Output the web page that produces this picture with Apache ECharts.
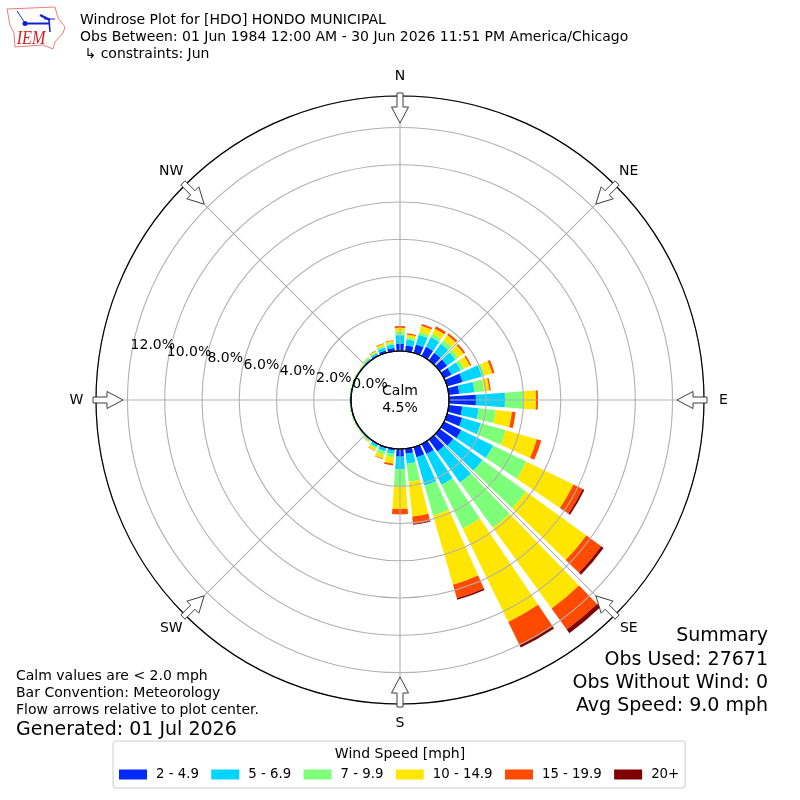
<!DOCTYPE html>
<html><head><meta charset="utf-8">
<style>html,body{margin:0;padding:0;background:#fff}#c{width:800px;height:800px}</style>
<script src="https://cdn.jsdelivr.net/npm/echarts@6/dist/echarts.min.js"></script>
</head><body><div id="c"></div>
<script>
const directions = [0,10,20,30,40,50,60,70,80,90,100,110,120,130,140,150,160,170,180,190,200,210,220,230,240,250,260,270,280,290,300,310,320,330,340,350];
const speedBins = ['2 - 4.9','5 - 6.9','7 - 9.9','10 - 14.9','15 - 19.9','20+'];
const binColors = ['#0029ff','#00d5ff','#7dff7a','#ffe600','#ff4a00','#800000'];
const speed2to5   = [.38,.31,.47,.55,.50,.50,.45,.87,.57,1.45,.73,.85,1.03,.91,.79,.60,.57,.27,.41,.10,.08,.06,.04,.03,.03,.03,.03,.03,.03,.03,.03,.03,.05,.08,.14,.18];
const speed5to7   = [.47,.33,.54,.58,.60,.55,.55,1.07,.82,1.56,.88,1.03,1.90,1.93,2.06,1.83,1.58,.54,.68,.17,.16,.12,.05,.04,.04,.04,.04,.04,.04,.04,.04,.04,.07,.10,.16,.18];
const speed7to10  = [.21,.10,.17,.20,.25,.20,.20,.18,.52,1.00,.93,1.40,2.00,2.90,3.00,2.62,1.67,.97,.93,.20,.18,.10,.04,.03,.02,.02,.02,.02,.02,.02,.02,.02,.05,.06,.10,.10];
const speed10to15 = [.19,.17,.33,.30,.33,.35,.35,.41,.28,.66,.87,1.73,2.80,4.00,5.36,5.58,3.87,1.88,1.20,.33,.22,.13,.04,.02,.02,.01,.01,.01,.01,.01,.02,.02,.04,.06,.11,.11];
const speed15to20 = [.09,.06,.11,.14,.12,.10,.08,.12,.08,.11,.20,.25,.55,.98,1.39,1.39,.75,.40,.29,.10,.04,.02,.01,0,0,0,0,0,0,0,0,0,.01,.02,.03,.03];
const speed20up   = [0,0,0,0,0,0,0,0,0,0,0,0,.10,.16,.24,.14,.09,.04,0,0,0,0,0,0,0,0,0,0,0,0,0,0,0,0,0,0];
const radiusTickLabels = ['0.0%','2.0%','4.0%','6.0%','8.0%','10.0%','12.0%'];
const compassLabels = {0:'N',45:'NE',90:'E',135:'SE',180:'S',225:'SW',270:'W',315:'NW'};
const titleLines = ['Windrose Plot for [HDO] HONDO MUNICIPAL','Obs Between: 01 Jun 1984 12:00 AM - 30 Jun 2026 11:51 PM America/Chicago',' \u21b3 constraints: Jun'];
const summaryLines = ['Summary','Obs Used: 27671','Obs Without Wind: 0','Avg Speed: 9.0 mph'];
const noteLines = ['Calm values are < 2.0 mph','Bar Convention: Meteorology','Flow arrows relative to plot center.'];

const allBins = [speed2to5,speed5to7,speed7to10,speed10to15,speed15to20,speed20up];
const FONT = '"DejaVu Sans"';
const FS = 14, FL = 19;
const CX = 400, CY = 400, R0 = 49, R1 = 304;
const chart = echarts.init(document.getElementById('c'), null, {renderer:'canvas'});

const txt = (text,x,y,size,align,extra) => ({type:'text',z:20,x,y,style:Object.assign({text,fontFamily:FONT,fontSize:size,fill:'#000',align:align||'left',verticalAlign:'middle'},extra||{})});
const graphics = [];
titleLines.forEach((t,i)=>graphics.push(txt(t,80,20.5+i*17,FS)));
summaryLines.forEach((t,i)=>graphics.push(txt(t,768,636.5+i*23.3,FL,'right')));
noteLines.forEach((t,i)=>graphics.push(txt(t,16,676.5+i*17,FS)));
graphics.push(txt('Generated: 01 Jul 2026',16,730,FL));
graphics.push(txt('Wind Speed [mph]',400,754,FS,'center'));
graphics.push(txt('Calm',400,391,FS,'center'));
graphics.push(txt('4.5%',400,408,FS,'center'));
radiusTickLabels.forEach((t,i)=>graphics.push(txt(t,370-36.2*i,384.5-6.5*i,FS,'center')));
graphics.push({type:'circle',z:15,shape:{cx:CX,cy:CY,r:R0},style:{fill:'none',stroke:'#000',lineWidth:1.2}});

Object.keys(compassLabels).forEach(a=>{
  const th = a*Math.PI/180, s=Math.sin(th), c=Math.cos(th);
  const P=(r,p)=>[CX+r*s+p*c, CY-r*c+p*s];
  graphics.push({type:'polygon',z:16,shape:{points:[P(307,-3),P(293,-3),P(293,-8.5),P(277,0),P(293,8.5),P(293,3),P(307,3)]},
    style:{fill:'#fff',stroke:'#333',lineWidth:1,opacity:.95}});
  const lp = P(323.5,0);
  graphics.push(txt(compassLabels[a],lp[0],lp[1],FS,'center'));
});

// IEM logo
const L=(pts,stroke,w)=>({type:'polyline',z:20,shape:{points:pts},style:{stroke,lineWidth:w,fill:'none'}});
graphics.push({type:'polygon',z:20,shape:{points:[[7,9],[55,7],[58,18],[65,27],[63,33],[55,42],[53,49],[43,45],[15,47],[14,33],[10,25]]},style:{fill:'#fff',stroke:'#e98080',lineWidth:1}});
graphics.push(L([[17,11],[25,23]],'#2030d0',1));
graphics.push(L([[25,23.5],[50,23.5]],'#1020d0',2));
graphics.push(L([[40,15],[50,20]],'#1020d0',2.5));
graphics.push(L([[44,19],[55,19]],'#1020d0',1));
graphics.push(L([[49,20],[50,32]],'#1020d0',1.5));
graphics.push({type:'circle',z:20,shape:{cx:25,cy:23.5,r:2.5},style:{fill:'#1020d0'}});
graphics.push({type:'text',z:20,x:27,y:38.5,scaleX:.85,originX:27,originY:38.5,style:{text:'IEM',fontFamily:'"Liberation Serif"',fontStyle:'italic',fontSize:19,fill:'#d02020',align:'center',verticalAlign:'middle'}});

const series = allBins.map((vals,i)=>({
  type:'bar',name:speedBins[i],coordinateSystem:'polar',stack:'rose',
  barWidth:'80%',itemStyle:{color:binColors[i]},silent:true,
  encode:{radius:0,angle:1},
  data:vals.map((v,k)=>[v,directions[k]])
}));

chart.setOption({
  animation:false,
  backgroundColor:'#fff',
  polar:{center:[CX,CY],radius:[R0,R1]},
  angleAxis:{type:'value',min:0,max:360,interval:45,startAngle:90,clockwise:true,z:5,
    axisLine:{show:true,lineStyle:{color:'#000',width:1.2}},axisTick:{show:false},
    splitLine:{show:true,lineStyle:{color:'#b0b0b0',width:1.1}},
    axisLabel:{show:false}},
  radiusAxis:{type:'value',min:0,max:13.69,interval:2,z:5,
    axisLine:{show:false},axisTick:{show:false},axisLabel:{show:false},
    splitLine:{show:true,lineStyle:{color:'#b0b0b0',width:1.1}}},
  legend:{left:113,top:741,orient:'horizontal',data:speedBins,itemWidth:28,itemHeight:10,itemGap:12.4,icon:'rect',
    padding:[27,6,7,6],borderColor:'#ccc',borderWidth:1,borderRadius:3,backgroundColor:'#fff',selectedMode:false,
    textStyle:{fontFamily:FONT,fontSize:13.3,color:'#000',padding:[0,0,0,4]}},
  series,
  graphic:{elements:graphics}
});
</script></body></html>
